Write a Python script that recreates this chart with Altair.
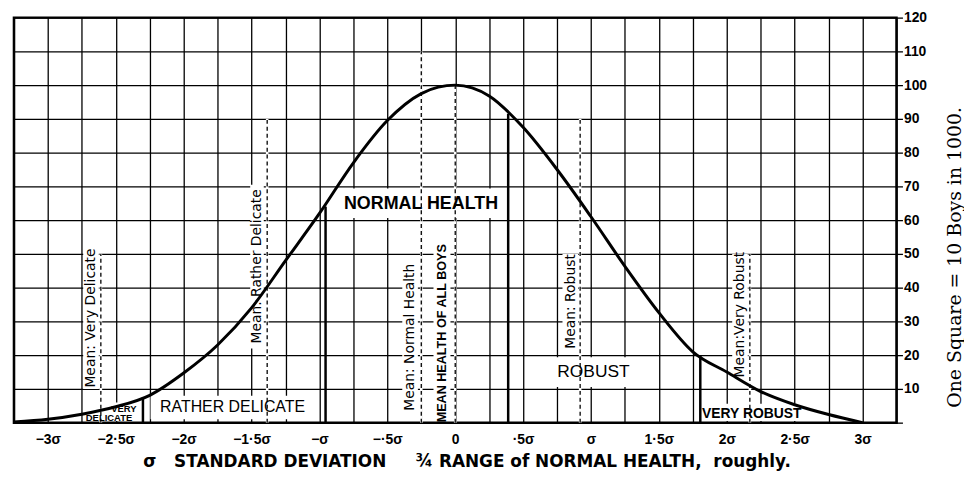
import altair as alt
import pandas as pd

# ---- curve: position in standard deviations, boys per 1000
sd_pos = [-3.25, -3.0, -2.75, -2.5, -2.25, -2.0, -1.75, -1.5, -1.25, -1.0, -0.75, -0.5, -0.25,
          -0.125, 0.0, 0.125, 0.25, 0.5, 0.75, 1.0, 1.25, 1.5, 1.75, 2.0, 2.25, 2.5, 2.75, 3.0]
boys = [0.2, 1.0, 2.5, 4.7, 8.1, 14.7, 23, 34, 48, 62, 77, 89.5, 97.5,
        99.4, 100, 99.2, 96.8, 87.5, 75, 61, 46.3, 32.6, 21, 15, 9.2, 5.3, 2.4, 0]

# ---- solid class boundaries
boundary_sd = [-2.30, -0.955, 0.39, 1.805]
boundary_top = [7.5, 64, 91.5, 20]

# ---- dashed mean lines
mean_names = ["Mean: Very Delicate", "Mean. Rather Delicate", "Mean: Normal Health",
              "MEAN HEALTH OF ALL BOYS", "Mean: Robust", "Mean:Very Robust"]
mean_sd = [-2.61, -1.385, -0.25, 0.0, 0.92, 2.17]
mean_top = [50, 90, 110, 100, 90, 50]
mean_label_sd = [-2.68, -1.46, -0.33, -0.10, 0.85, 2.10]
mean_label_y = [31, 46.3, 25.3, 26.5, 35.9, 32]

# ---- class labels
region_names = ["NORMAL HEALTH", "RATHER DELICATE", "ROBUST", "VERY ROBUST", "VERY", "DELICATE"]
region_sd = [-0.252, -1.64, 1.018, 2.184, -2.44, -2.55]
region_y = [64.9, 4.6, 14.9, 2.6, 4.1, 1.3]

# ---- white backgrounds behind the lettering
box_x1 = [-0.855, -2.244, 0.716, 1.813, -2.72, -2.74, -1.51, -0.39, -0.16, 0.79, 2.04]
box_x2 = [0.35, -1.038, 1.338, 2.558, -2.325, -2.625, -1.41, -0.275, -0.035, 0.905, 2.155]
box_y1 = [60.6, 1.0, 10.6, 0.5, 0.5, 10, 22, 3.5, 0.5, 22, 14.5]
box_y2 = [69.4, 8.0, 19.4, 5.6, 6.0, 51.2, 70.5, 47.5, 52, 50, 50]

# ---- axis ticks and labels
tick_vals = [-3, -2.5, -2, -1.5, -1, -0.5, 0, 0.5, 1, 1.5, 2, 2.5, 3]
tick_texts = ["−3σ", "−2·5σ", "−2σ", "−1·5σ", "−σ", "−·5σ", "0", "·5σ", "σ", "1·5σ", "2σ", "2·5σ", "3σ"]
grid_x = [i / 4 for i in range(-13, 14)]
grid_y = list(range(0, 121, 10))

label_expr = "".join(f"datum.value == {v} ? '{t}' : " for v, t in zip(tick_vals, tick_texts)) + "''"

NB = "\u00a0"
x_title = f"σ{NB*3}STANDARD DEVIATION{NB*5}¾ RANGE of NORMAL HEALTH,{NB*2}roughly."

curve_df = pd.DataFrame({"sd": sd_pos, "boys": boys})
bound_df = pd.DataFrame({"sd": boundary_sd, "top": boundary_top})
mean_df = pd.DataFrame({"sd": mean_sd, "top": mean_top, "label": mean_names,
                        "lsd": mean_label_sd, "ly": mean_label_y})
region_df = pd.DataFrame({"sd": region_sd, "y": region_y, "label": region_names})
box_df = pd.DataFrame({"x1": box_x1, "x2": box_x2, "y1": box_y1, "y2": box_y2})

xscale = alt.Scale(domain=[-3.25, 3.25], nice=False, zero=False)
yscale = alt.Scale(domain=[0, 120], nice=False, zero=False)

xaxis = alt.Axis(values=grid_x, labelExpr=label_expr, grid=True, gridColor="black",
                 gridWidth=1.3, gridOpacity=1, ticks=False, domain=False,
                 labelFont="Liberation Sans", labelFontWeight="bold", labelFontSize=14,
                 labelColor="black", labelPadding=10, labelOverlap=False, labelFlush=False,
                 title=x_title,
                 titleFont="DejaVu Sans", titleFontSize=17, titleFontWeight="bold",
                 titleColor="black", titleX=456, titleY=39, titleAlign="center",
                 titleBaseline="middle")
yaxis = alt.Axis(orient="right", values=grid_y, labelExpr="datum.value == 0 ? '' : datum.label",
                 grid=True, gridColor="black", gridWidth=1.3, gridOpacity=1,
                 ticks=True, tickSize=6, tickColor="black", tickWidth=1.3, domain=False,
                 labelFont="Liberation Sans", labelFontWeight="bold", labelFontSize=14,
                 labelColor="black", labelPadding=1,
                 title="One Square = 10 Boys in 1000.", titleFont="DejaVu Serif",
                 titleFontSize=19, titleFontWeight="normal", titleColor="black",
                 titleAngle=270, titleX=58, titleY=241, titleAlign="center",
                 titleBaseline="middle")


def X(field):
    return alt.X(field, type="quantitative", scale=xscale, axis=xaxis)


def Y(field):
    return alt.Y(field, type="quantitative", scale=yscale, axis=yaxis)


boxes = alt.Chart(box_df).mark_rect(fill="white", strokeWidth=0).encode(
    x=X("x1"), x2="x2", y=Y("y1"), y2="y2")


def vrules(df, **kw):
    return alt.Chart(df).transform_calculate(base="0").mark_rule(**kw).encode(
        x=X("sd"), y=Y("base"), y2="top")


white_under = vrules(mean_df, color="white", strokeWidth=2.6)
dashed = vrules(mean_df, color="black", strokeWidth=1.3, strokeDash=[4, 3])
bounds = vrules(bound_df, color="black", strokeWidth=2.5)

curve = alt.Chart(curve_df).mark_line(color="black", strokeWidth=3, interpolate="monotone").encode(
    x=X("sd"), y=Y("boys"))

mean_text = alt.Chart(mean_df).transform_filter(
    "datum.label != 'MEAN HEALTH OF ALL BOYS'").mark_text(
    angle=270, align="center", baseline="middle", font="DejaVu Sans",
    fontSize=14, color="black").encode(x=X("lsd"), y=Y("ly"), text="label")

mean_all_text = alt.Chart(mean_df).transform_filter(
    "datum.label == 'MEAN HEALTH OF ALL BOYS'").mark_text(
    angle=270, align="center", baseline="middle", font="Liberation Sans",
    fontSize=12.7, fontWeight="bold", color="black").encode(x=X("lsd"), y=Y("ly"), text="label")


def region(names, size, weight):
    cond = " || ".join(f"datum.label == '{n}'" for n in names)
    return alt.Chart(region_df).transform_filter(cond).mark_text(
        align="center", baseline="middle", font="Liberation Sans", fontSize=size,
        fontWeight=weight, color="black").encode(x=X("sd"), y=Y("y"), text="label")


t_normal = region(["NORMAL HEALTH"], 18, "bold")
t_rather = region(["RATHER DELICATE"], 16, "normal")
t_robust = region(["ROBUST"], 17.5, "normal")
t_vrobust = region(["VERY ROBUST"], 14, "bold")
t_vdel = region(["VERY", "DELICATE"], 9.5, "bold")

chart = alt.layer(
    boxes, white_under, dashed, curve, bounds,
    mean_text, mean_all_text, t_normal, t_rather, t_robust, t_vrobust, t_vdel
).properties(
    width=889, height=408,
    padding={"left": 0, "top": 1, "right": 0, "bottom": 0},
    background="white"
).configure_view(stroke="black", strokeWidth=2.5)

chart.save("out.html", embed_options={"renderer": "svg", "actions": False})
